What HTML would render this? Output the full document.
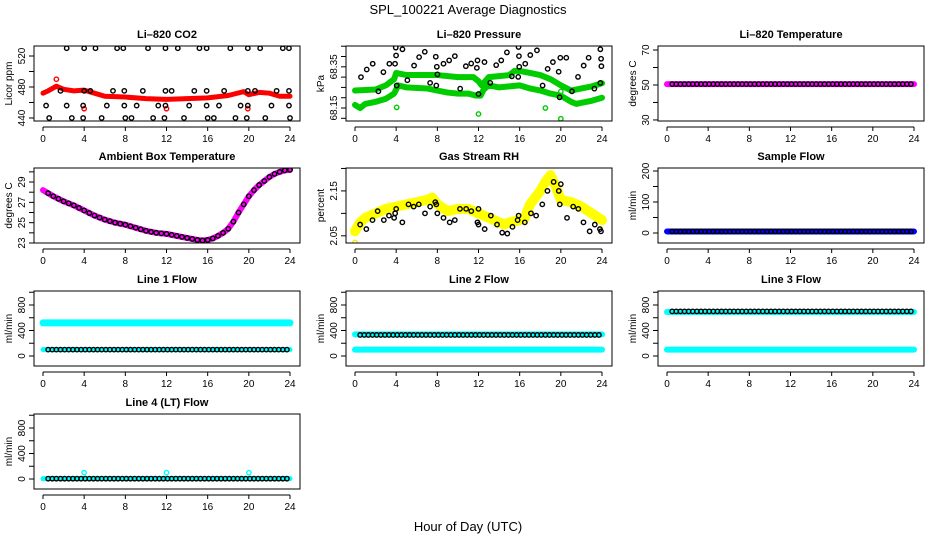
<!DOCTYPE html>
<html><head><meta charset="utf-8">
<style>
body{margin:0;background:#fff;}
svg{display:block;font-family:"Liberation Sans",sans-serif;}
.tt{font-weight:bold;font-size:11px;text-anchor:middle;}
.tk{font-size:10px;text-anchor:middle;}
</style></head><body>
<svg id="chart" width="936" height="540" viewBox="0 0 936 540">
<rect width="936" height="540" fill="#fff"/>
<text x="468" y="14" font-size="13" text-anchor="middle">SPL_100221  Average Diagnostics</text>
<text x="468" y="531" font-size="13" text-anchor="middle">Hour of Day (UTC)</text>
</svg>
<script>
const xTicks=[0,4,8,12,16,20,24];
// CO2
const co2BandH=[0,0.5,1.3,2,3,4,5,6,8,10,12,14,16,18,19.5,20,21,22,23,24];
const co2BandV=[472,475,481,477,475,476,472,468,467,465,464,465,466,469,474,470,473,472,468,468];
const co2BlkH=[2.3,4.0,5.1,7.2,7.8,10.2,11.9,13.1,15.2,15.9,18.2,19.9,21.1,23.3,23.9,1.7,4.0,4.6,6.8,7.9,9.7,11.9,12.5,14.7,15.9,17.6,19.9,20.6,22.7,23.9,0.3,2.3,3.9,6.2,7.9,9.1,11.2,11.9,14.2,15.9,17.1,19.2,19.9,22.2,23.9,0.6,2.8,3.9,5.7,8.0,8.6,10.7,11.8,13.7,16.0,16.6,18.7,19.8,21.6,24];
const co2BlkV=[530,530,530,530,530,530,530,530,530,530,530,530,530,530,530,475,475,475,475,475,475,475,475,475,475,475,475,475,475,475,456,456,456,456,456,456,456,456,456,456,456,456,456,456,456,440,440,440,440,440,440,440,440,440,440,440,440,440,440,440];
const co2RedH=[1.3,4,12,19.9];
const co2RedV=[490,452,452,452];
// Pressure
const prUpH=[0,2,3,3.8,4,5,8,10,11.5,12,12.3,13,15,15.5,16,17,18,19,20,21,22,23,24];
const prUpV=[68.235,68.24,68.26,68.29,68.32,68.31,68.31,68.30,68.30,68.28,68.26,68.30,68.31,68.33,68.33,68.32,68.31,68.29,68.26,68.235,68.245,68.255,68.27];
const prLoH=[0,0.5,1,2,3,3.8,4.2,5,7,8,9,10,11,11.8,12.2,12.5,13,14,15,16,17,18,19,20,21,21.5,22,23,24];
const prLoV=[68.165,68.15,68.17,68.18,68.195,68.22,68.26,68.25,68.245,68.235,68.225,68.22,68.22,68.21,68.21,68.24,68.26,68.25,68.255,68.26,68.245,68.235,68.22,68.21,68.18,68.17,68.175,68.185,68.2];
const prGrnH=[4.05,12,18.5,20,20];
const prGrnV=[68.153,68.121,68.15,68.098,68.23];
const prBlkH=[0.58,1.14,1.72,2.27,2.76,3.34,3.89,3.99,3.96,4.05,4.61,5.09,5.74,6.23,6.78,7.30,7.85,7.95,8.01,7.9,8.60,9.15,9.70,10.22,10.77,11.29,11.84,11.90,12.00,12.58,13.14,13.72,14.21,14.76,15.24,15.86,15.93,15.96,15.89,16.54,17.03,17.68,18.23,18.72,19.23,19.79,19.88,19.95,20.53,21.08,21.67,22.22,22.70,23.26,23.84,23.91,23.94,23.84];
const prBlkV=[68.300,68.337,68.365,68.231,68.324,68.365,68.365,68.405,68.443,68.259,68.435,68.285,68.356,68.397,68.423,68.272,68.399,68.350,68.313,68.259,68.365,68.381,68.402,68.244,68.353,68.366,68.345,68.381,68.218,68.373,68.272,68.358,68.381,68.420,68.304,68.301,68.402,68.350,68.446,68.365,68.407,68.430,68.259,68.340,68.373,68.326,68.202,68.394,68.394,68.231,68.301,68.356,68.394,68.244,68.435,68.389,68.353,68.272];
// Ambient
const ambH=[0,0.5,1,1.5,2,2.5,3,3.5,4,4.5,5,5.5,6,6.5,7,7.5,8,8.5,9,9.5,10,10.5,11,11.5,12,12.5,13,13.5,14,14.5,15,15.5,16,16.5,17,17.5,18,18.5,19,19.5,20,20.5,21,21.5,22,22.5,23,23.5,24];
const ambV=[28.2,27.9,27.6,27.35,27.1,26.9,26.7,26.45,26.2,25.95,25.7,25.5,25.3,25.15,25.0,24.9,24.8,24.65,24.5,24.35,24.2,24.1,24.0,23.95,23.9,23.8,23.7,23.6,23.5,23.4,23.3,23.25,23.3,23.45,23.7,24.0,24.4,25.1,26.0,26.8,27.6,28.2,28.7,29.1,29.5,29.8,30.0,30.15,30.2];
// RH
const rhBandH=[0,0.5,1,2,3,4,5,6,7,7.5,8,9,10,11,12,13,14,14.5,15,16,16.5,17,18,18.5,19,19.5,20,21,22,23,24];
const rhBandV=[2.06,2.08,2.09,2.10,2.11,2.115,2.12,2.125,2.13,2.135,2.12,2.105,2.11,2.11,2.10,2.09,2.08,2.075,2.08,2.085,2.09,2.12,2.15,2.17,2.185,2.16,2.13,2.125,2.115,2.10,2.085];
const rhBlkH=[0.5,1.1,1.7,2.2,2.8,3.3,3.8,3.9,4.0,4.6,5.2,5.7,6.2,6.8,7.3,7.8,7.9,8.0,8.6,9.2,9.7,10.2,10.8,11.3,11.9,12.0,12.0,12.6,13.2,13.8,14.3,14.8,15.3,15.8,15.9,16.5,17.1,17.6,18.2,18.7,19.3,19.8,20.0,19.9,20.6,21.2,21.7,22.2,22.8,23.3,23.8,23.9];
const rhBlkV=[2.075,2.065,2.085,2.105,2.085,2.095,2.09,2.10,2.11,2.08,2.12,2.115,2.12,2.10,2.115,2.125,2.12,2.10,2.09,2.08,2.085,2.11,2.11,2.105,2.08,2.075,2.11,2.065,2.095,2.075,2.057,2.055,2.07,2.085,2.095,2.08,2.10,2.095,2.12,2.15,2.17,2.15,2.165,2.12,2.09,2.115,2.11,2.08,2.06,2.075,2.065,2.06];
const rhYelH=[0];
const rhYelV=[2.035];
// flat series levels
const tempLevel=[50.5];
const sampleLevel=[5];
const line1Band=[520,100];
const line1Black=[100];
const line2Band=[340,100];
const line2Black=[330];
const line3Band=[690,100];
const line3Black=[700];
const line4Band=[5];
const line4Black=[5];
const line4OutH=[4,12,20];
const line4OutV=[100,100,100];

const NS='http://www.w3.org/2000/svg';
const svg=document.getElementById('chart');
function mk(tag,attrs,parent){const e=document.createElementNS(NS,tag);for(const k in attrs)e.setAttribute(k,attrs[k]);(parent||svg).appendChild(e);return e;}
const COLX=[34,346,658], ROWY=[46,168,291,414], BW=266, BH=75;

function panel(cfg){
  const L=COLX[cfg.col],T=ROWY[cfg.row];
  const g=mk('g',{});
  
  
  const xs=h=>L+9+h*(247/24);
  const ys=v=>T+BH-(v-cfg.lo)/(cfg.hi-cfg.lo)*BH;
  const t=mk('text',{x:L+BW/2,y:T-8,class:'tt'},g);t.textContent=cfg.title;
  
  
  const xa=mk('g',{},g);
  
  
  mk('line',{x1:xs(0),x2:xs(24),y1:T+BH+6,y2:T+BH+6,stroke:'#000'},xa);
  xTicks.forEach(v=>{mk('line',{x1:xs(v),x2:xs(v),y1:T+BH+6,y2:T+BH+10,stroke:'#000'},xa);
    const l=mk('text',{x:xs(v),y:T+BH+21,class:'tk'},xa);l.textContent=v;});
  const ya=mk('g',{},g);
  
  
  cfg.ticks.forEach(v=>{const y=ys(v);mk('line',{x1:L-5,x2:L,y1:y,y2:y,stroke:'#000'},ya);});
  cfg.labels.forEach(v=>{const y=ys(v);const l=mk('text',{x:0,y:0,class:'tk',transform:`translate(${L-9},${y}) rotate(-90)`},ya);l.textContent=cfg.fmt?cfg.fmt(v):v;});
  const yl=mk('text',{x:0,y:0,'font-size':'10','text-anchor':'middle',transform:`translate(${L-22},${T+BH/2}) rotate(-90)`},g);
  yl.textContent=cfg.ylab;
  
  
  const cp='c'+cfg.col+cfg.row;
  const cl=mk('clipPath',{id:cp},g);mk('rect',{x:L,y:T,width:BW,height:BH},cl);
  const d=mk('g',{'clip-path':`url(#${cp})`},g);
  cfg.draw(d,xs,ys);
  const b=mk('rect',{x:L,y:T,width:BW,height:BH,fill:'none',stroke:'#000'},g);
  
  
}
function band(g,xs,ys,H,V,col,w,name){
  const p=mk('polyline',{points:H.map((h,i)=>xs(h)+','+ys(V[i])).join(' '),fill:'none',stroke:col,'stroke-width':w,'stroke-linejoin':'round','stroke-linecap':'round'},g);
  
  
}
function pts(g,xs,ys,H,V,col,name){
  H.forEach((h,i)=>{const c=mk('circle',{cx:xs(h),cy:ys(V[i]),r:2.2,fill:'none',stroke:col,'stroke-width':1.4},g);
    
    });
}
function flatHours(){const a=[];for(let h=0.5;h<=24.01;h+=0.4)a.push(h);return a;}
const FH=flatHours();
function flat(g,xs,ys,level,col,w,name){band(g,xs,ys,[0,24],[level,level],col,w,name);}
function flatPts(g,xs,ys,level,col,name){pts(g,xs,ys,FH,FH.map(()=>level),col,name);}

panel({col:0,row:0,name:'co2-panel',title:'Li–820 CO2',ylab:'Licor ppm',lo:436.1,hi:532.9,ticks:[440,460,480,500,520],labels:[440,480,520],
  draw:(g,xs,ys)=>{band(g,xs,ys,co2BandH,co2BandV,'#f00',5,'co2-band');pts(g,xs,ys,co2RedH,co2RedV,'#f00','co2-red-point');pts(g,xs,ys,co2BlkH,co2BlkV,'#000','co2-point');}});
panel({col:1,row:0,name:'pressure-panel',title:'Li–820 Pressure',ylab:'kPa',lo:68.087,hi:68.451,ticks:[68.10,68.15,68.20,68.25,68.30,68.35,68.40,68.45],labels:[68.15,68.35],fmt:v=>v.toFixed(2),
  draw:(g,xs,ys)=>{band(g,xs,ys,prUpH,prUpV,'#0c0',6,'pressure-band-upper');band(g,xs,ys,prLoH,prLoV,'#0c0',6,'pressure-band-lower');pts(g,xs,ys,prGrnH,prGrnV,'#0c0','pressure-green-point');pts(g,xs,ys,prBlkH,prBlkV,'#000','pressure-point');}});
panel({col:2,row:0,name:'temperature-panel',title:'Li–820 Temperature',ylab:'degrees C',lo:29.4,hi:72.3,ticks:[30,40,50,60,70],labels:[30,50,70],
  draw:(g,xs,ys)=>{flat(g,xs,ys,tempLevel[0],'#f0f',6,'temp-band');flatPts(g,xs,ys,tempLevel[0],'#000','temp-point');}});
panel({col:0,row:1,name:'ambient-panel',title:'Ambient Box Temperature',ylab:'degrees C',lo:23.0,hi:30.38,ticks:[23,24,25,26,27,28,29,30],labels:[23,25,27,29],
  draw:(g,xs,ys)=>{band(g,xs,ys,ambH,ambV,'#f0f',6,'ambient-band');pts(g,xs,ys,ambH.slice(1),ambV.slice(1),'#000','ambient-point');}});
panel({col:1,row:1,name:'rh-panel',title:'Gas Stream RH',ylab:'percent',lo:2.034,hi:2.201,ticks:[2.05,2.10,2.15,2.20],labels:[2.05,2.15],fmt:v=>v.toFixed(2),
  draw:(g,xs,ys)=>{band(g,xs,ys,rhBandH,rhBandV,'#ff0',10,'rh-band');pts(g,xs,ys,rhYelH,rhYelV,'#ee0','rh-yellow-point');pts(g,xs,ys,rhBlkH,rhBlkV,'#000','rh-point');}});
panel({col:2,row:1,name:'sample-flow-panel',title:'Sample Flow',ylab:'ml/min',lo:-32.3,hi:209.7,ticks:[0,50,100,150,200],labels:[0,100,200],
  draw:(g,xs,ys)=>{flat(g,xs,ys,sampleLevel[0],'#00f',6,'sample-band');flatPts(g,xs,ys,sampleLevel[0],'#000','sample-point');}});
const LT=[0,200,400,600,800,1000],LL=[0,400,800];
panel({col:0,row:2,name:'line1-panel',title:'Line 1 Flow',ylab:'ml/min',lo:-157,hi:1019.6,ticks:LT,labels:LL,
  draw:(g,xs,ys)=>{flat(g,xs,ys,line1Band[0],'#0ff',7,'line1-band-upper');flat(g,xs,ys,line1Band[1],'#0ff',5,'line1-band-lower');flatPts(g,xs,ys,line1Black[0],'#000','line1-point');}});
panel({col:1,row:2,name:'line2-panel',title:'Line 2 Flow',ylab:'ml/min',lo:-157,hi:1019.6,ticks:LT,labels:LL,
  draw:(g,xs,ys)=>{flat(g,xs,ys,line2Band[0],'#0ff',6,'line2-band-upper');flat(g,xs,ys,line2Band[1],'#0ff',6,'line2-band-lower');flatPts(g,xs,ys,line2Black[0],'#000','line2-point');}});
panel({col:2,row:2,name:'line3-panel',title:'Line 3 Flow',ylab:'ml/min',lo:-157,hi:1019.6,ticks:LT,labels:LL,
  draw:(g,xs,ys)=>{flat(g,xs,ys,line3Band[0],'#0ff',6,'line3-band-upper');flat(g,xs,ys,line3Band[1],'#0ff',6,'line3-band-lower');flatPts(g,xs,ys,line3Black[0],'#000','line3-point');}});
panel({col:0,row:3,name:'line4-panel',title:'Line 4 (LT) Flow',ylab:'ml/min',lo:-157,hi:1019.6,ticks:LT,labels:LL,
  draw:(g,xs,ys)=>{flat(g,xs,ys,line4Band[0],'#0ff',5,'line4-band');pts(g,xs,ys,line4OutH,line4OutV,'#0ff','line4-outlier');flatPts(g,xs,ys,line4Black[0],'#000','line4-point');}});
</script>
</body></html>
